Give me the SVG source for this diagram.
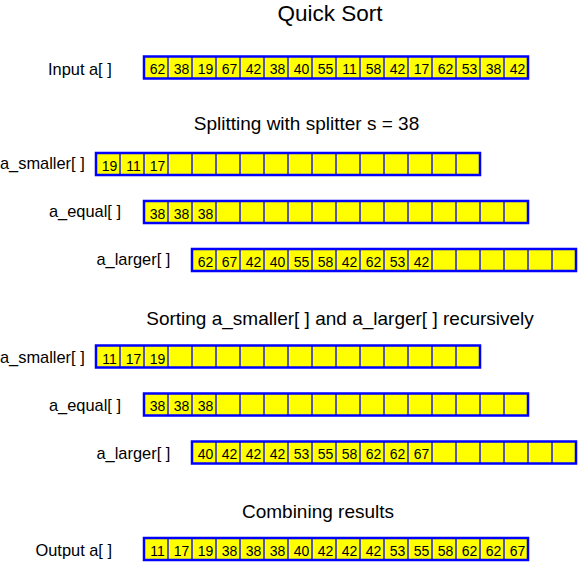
<svg xmlns="http://www.w3.org/2000/svg" width="580" height="563" viewBox="0 0 580 563">
<style>
text{font-family:"Liberation Sans",Arial,Helvetica,sans-serif;fill:#000}
.title{font-size:22.5px;text-anchor:middle}
.sub{font-size:19px;text-anchor:middle}
.lbl{font-size:16.4px}
.num{font-size:14px;text-anchor:middle}
.bg{fill:#ffff00;stroke:none}
.div{stroke:#0000ff;stroke-width:1.3;fill:none}
.box{fill:none;stroke:#0000ff;stroke-width:2.5}
</style>
<rect width="580" height="563" fill="#fff"/>
<text class="title" x="330" y="20.5">Quick Sort</text>
<text class="sub" x="306.5" y="130">Splitting with splitter s = 38</text>
<text class="sub" x="340" y="325">Sorting a_smaller[ ] and a_larger[ ] recursively</text>
<text class="sub" x="318" y="518">Combining results</text>
<g id="connectors"/>

<g id="input">
<text class="lbl" x="48" y="75">Input a[ ]</text>
<rect class="bg" x="144" y="56.5" width="384" height="22"/>
<path class="div" d="M168 56.5v22M192 56.5v22M216 56.5v22M240 56.5v22M264 56.5v22M288 56.5v22M312 56.5v22M336 56.5v22M360 56.5v22M384 56.5v22M408 56.5v22M432 56.5v22M456 56.5v22M480 56.5v22M504 56.5v22"/>
<rect class="box" x="144" y="56.5" width="384" height="22"/>
<g transform="translate(0,74)">
<text class="num" x="157.5">62</text><text class="num" x="181.5">38</text><text class="num" x="205.5">19</text><text class="num" x="229.5">67</text><text class="num" x="253.5">42</text><text class="num" x="277.5">38</text><text class="num" x="301.5">40</text><text class="num" x="325.5">55</text><text class="num" x="349.5">11</text><text class="num" x="373.5">58</text><text class="num" x="397.5">42</text><text class="num" x="421.5">17</text><text class="num" x="445.5">62</text><text class="num" x="469.5">53</text><text class="num" x="493.5">38</text><text class="num" x="517.5">42</text>
</g>
</g>

<g id="split-smaller">
<text class="lbl" x="0" y="169.3">a_smaller[ ]</text>
<rect class="bg" x="96" y="153" width="384" height="22"/>
<path class="div" d="M120 153v22M144 153v22M168 153v22M192 153v22M216 153v22M240 153v22M264 153v22M288 153v22M312 153v22M336 153v22M360 153v22M384 153v22M408 153v22M432 153v22M456 153v22"/>
<rect class="box" x="96" y="153" width="384" height="22"/>
<g transform="translate(0,170.5)">
<text class="num" x="109.5">19</text><text class="num" x="133.5">11</text><text class="num" x="157.5">17</text>
</g>
</g>

<g id="split-equal">
<text class="lbl" x="49" y="217.3">a_equal[ ]</text>
<rect class="bg" x="144" y="201" width="384" height="22"/>
<path class="div" d="M168 201v22M192 201v22M216 201v22M240 201v22M264 201v22M288 201v22M312 201v22M336 201v22M360 201v22M384 201v22M408 201v22M432 201v22M456 201v22M480 201v22M504 201v22"/>
<rect class="box" x="144" y="201" width="384" height="22"/>
<g transform="translate(0,218.5)">
<text class="num" x="157.5">38</text><text class="num" x="181.5">38</text><text class="num" x="205.5">38</text>
</g>
</g>

<g id="split-larger">
<text class="lbl" x="96.5" y="265">a_larger[ ]</text>
<rect class="bg" x="192" y="249" width="384" height="22"/>
<path class="div" d="M216 249v22M240 249v22M264 249v22M288 249v22M312 249v22M336 249v22M360 249v22M384 249v22M408 249v22M432 249v22M456 249v22M480 249v22M504 249v22M528 249v22M552 249v22"/>
<rect class="box" x="192" y="249" width="384" height="22"/>
<g transform="translate(0,266.5)">
<text class="num" x="205.5">62</text><text class="num" x="229.5">67</text><text class="num" x="253.5">42</text><text class="num" x="277.5">40</text><text class="num" x="301.5">55</text><text class="num" x="325.5">58</text><text class="num" x="349.5">42</text><text class="num" x="373.5">62</text><text class="num" x="397.5">53</text><text class="num" x="421.5">42</text>
</g>
</g>

<g id="sorted-smaller">
<text class="lbl" x="0" y="363.3">a_smaller[ ]</text>
<rect class="bg" x="96" y="345.5" width="384" height="22"/>
<path class="div" d="M120 345.5v22M144 345.5v22M168 345.5v22M192 345.5v22M216 345.5v22M240 345.5v22M264 345.5v22M288 345.5v22M312 345.5v22M336 345.5v22M360 345.5v22M384 345.5v22M408 345.5v22M432 345.5v22M456 345.5v22"/>
<rect class="box" x="96" y="345.5" width="384" height="22"/>
<g transform="translate(0,363.5)">
<text class="num" x="109.5">11</text><text class="num" x="133.5">17</text><text class="num" x="157.5">19</text>
</g>
</g>

<g id="sorted-equal">
<text class="lbl" x="49" y="411">a_equal[ ]</text>
<rect class="bg" x="144" y="393.5" width="384" height="22"/>
<path class="div" d="M168 393.5v22M192 393.5v22M216 393.5v22M240 393.5v22M264 393.5v22M288 393.5v22M312 393.5v22M336 393.5v22M360 393.5v22M384 393.5v22M408 393.5v22M432 393.5v22M456 393.5v22M480 393.5v22M504 393.5v22"/>
<rect class="box" x="144" y="393.5" width="384" height="22"/>
<g transform="translate(0,411)">
<text class="num" x="157.5">38</text><text class="num" x="181.5">38</text><text class="num" x="205.5">38</text>
</g>
</g>

<g id="sorted-larger">
<text class="lbl" x="96.5" y="459">a_larger[ ]</text>
<rect class="bg" x="192" y="441.5" width="384" height="22"/>
<path class="div" d="M216 441.5v22M240 441.5v22M264 441.5v22M288 441.5v22M312 441.5v22M336 441.5v22M360 441.5v22M384 441.5v22M408 441.5v22M432 441.5v22M456 441.5v22M480 441.5v22M504 441.5v22M528 441.5v22M552 441.5v22"/>
<rect class="box" x="192" y="441.5" width="384" height="22"/>
<g transform="translate(0,458.5)">
<text class="num" x="205.5">40</text><text class="num" x="229.5">42</text><text class="num" x="253.5">42</text><text class="num" x="277.5">42</text><text class="num" x="301.5">53</text><text class="num" x="325.5">55</text><text class="num" x="349.5">58</text><text class="num" x="373.5">62</text><text class="num" x="397.5">62</text><text class="num" x="421.5">67</text>
</g>
</g>

<g id="output">
<text class="lbl" x="35.5" y="556">Output a[ ]</text>
<rect class="bg" x="144" y="538" width="384" height="22"/>
<path class="div" d="M168 538v22M192 538v22M216 538v22M240 538v22M264 538v22M288 538v22M312 538v22M336 538v22M360 538v22M384 538v22M408 538v22M432 538v22M456 538v22M480 538v22M504 538v22"/>
<rect class="box" x="144" y="538" width="384" height="22"/>
<g transform="translate(0,555.5)">
<text class="num" x="157.5">11</text><text class="num" x="181.5">17</text><text class="num" x="205.5">19</text><text class="num" x="229.5">38</text><text class="num" x="253.5">38</text><text class="num" x="277.5">38</text><text class="num" x="301.5">40</text><text class="num" x="325.5">42</text><text class="num" x="349.5">42</text><text class="num" x="373.5">42</text><text class="num" x="397.5">53</text><text class="num" x="421.5">55</text><text class="num" x="445.5">58</text><text class="num" x="469.5">62</text><text class="num" x="493.5">62</text><text class="num" x="517.5">67</text>
</g>
</g>
</svg>
